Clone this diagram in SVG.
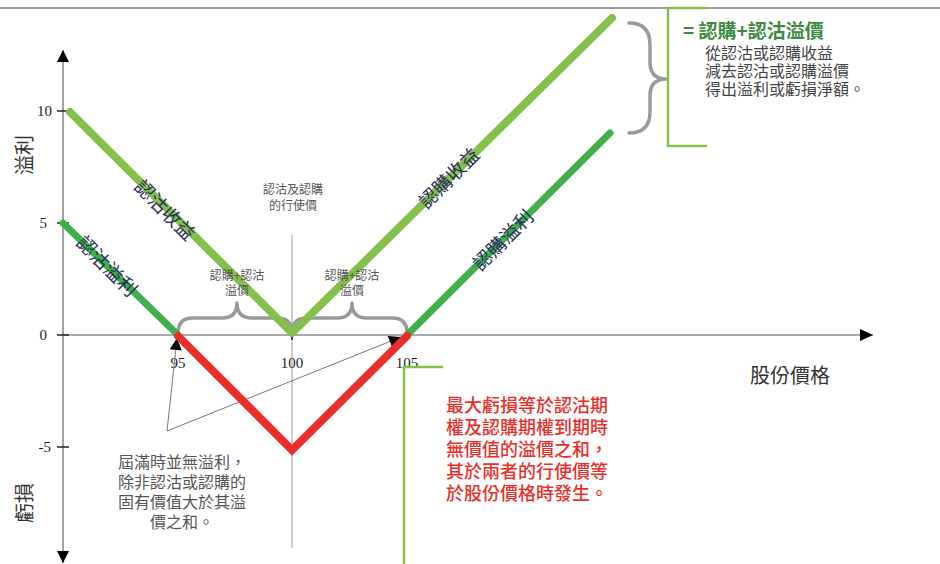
<svg xmlns="http://www.w3.org/2000/svg" width="940" height="564" viewBox="0 0 940 564">
<style>
.cjk{font-family:"Noto Sans CJK TC","Noto Sans CJK SC",sans-serif}
.num{font-family:"Liberation Serif",serif;font-size:15px;fill:#222}
.lbl{font-family:"Noto Sans CJK TC",sans-serif;font-size:19px;fill:#2b2d5c}
.note{font-family:"Noto Sans CJK TC",sans-serif;fill:#555}
.brace{fill:none;stroke:#9a9a9a;stroke-width:3.5;stroke-linejoin:round;stroke-linecap:round}
.lg{stroke:#84c14c;stroke-width:8;stroke-linecap:round;fill:none}
.mg{stroke:#3fb04c;stroke-width:7;stroke-linecap:round;fill:none}
.rd{stroke:#ea2f2a;stroke-width:8;stroke-linecap:round;stroke-linejoin:miter;fill:none}
.tick{stroke:#222;stroke-width:1.5}
.gb{fill:none;stroke:#84c14c;stroke-width:2.5}
</style>
<defs>
<marker id="tri" viewBox="0 0 10 10" refX="10" refY="5" markerWidth="12" markerHeight="12" markerUnits="userSpaceOnUse" orient="auto">
<path d="M0,0 L10,5 L0,10 Z" fill="#000"/>
</marker>
<marker id="ann" viewBox="0 0 10 10" refX="10" refY="5" markerWidth="13" markerHeight="12" markerUnits="userSpaceOnUse" orient="auto">
<path d="M0,0 L10,5 L0,10 Z" fill="#000"/>
</marker>
</defs>
<rect width="940" height="564" fill="#fff"/>
<line x1="0" y1="8" x2="940" y2="8" stroke="#9a9a9a" stroke-width="2"/>

<g id="axes">
<line x1="63" y1="335" x2="63" y2="50" stroke="#666" stroke-width="1.2" marker-end="url(#tri)"/>
<line x1="63" y1="335" x2="63" y2="563" stroke="#666" stroke-width="1.2" marker-end="url(#tri)"/>
<line x1="63" y1="335" x2="873" y2="335" stroke="#aaa" stroke-width="2"/>
<path d="M860,329 L873,335 L860,341 Z" fill="#000"/>
<line x1="292" y1="235" x2="292" y2="548" stroke="#aaa" stroke-width="1.2"/>
<line class="tick" x1="57" y1="111" x2="69" y2="111"/>
<line class="tick" x1="57" y1="223" x2="69" y2="223"/>
<line class="tick" x1="57" y1="335" x2="69" y2="335"/>
<line class="tick" x1="57" y1="447" x2="69" y2="447"/>
<line class="tick" x1="178" y1="329" x2="178" y2="340"/>
<line class="tick" x1="292" y1="329" x2="292" y2="340"/>
<line class="tick" x1="407" y1="329" x2="407" y2="340"/>
<text class="num" x="52" y="116" text-anchor="end">10</text>
<text class="num" x="47" y="228" text-anchor="end">5</text>
<text class="num" x="47" y="340" text-anchor="end">0</text>
<text class="num" x="51" y="452" text-anchor="end">-5</text>
<text class="num" x="178" y="368" text-anchor="middle">95</text>
<text class="num" x="292" y="368" text-anchor="middle">100</text>
<text class="num" x="407" y="368" text-anchor="middle">105</text>
<text class="cjk" x="0" y="0" font-size="20" fill="#333" text-anchor="middle" transform="translate(32,155) rotate(-90)">溢利</text>
<text class="cjk" x="0" y="0" font-size="20" fill="#333" text-anchor="middle" transform="translate(32,503) rotate(-90)">虧損</text>
<text class="cjk" x="750" y="383" font-size="20" fill="#333">股份價格</text>
</g>

<g id="connectors">
<path class="brace" d="M178,333 Q178,318 193,318 L222,318 Q237,318 237,303 Q237,318 252,318 L277,318 Q292,318 292,333"/>
<path class="brace" d="M292,333 Q292,318 307,318 L337,318 Q352,318 352,303 Q352,318 367,318 L392,318 Q407,318 407,333"/>
<path class="brace" d="M629,23 Q650,23 650,45 L650,62 Q650,79 666,79 Q650,79 650,96 L650,112 Q650,133 629,133"/>
<line x1="167" y1="431" x2="177" y2="338" stroke="#777" stroke-width="1" marker-end="url(#ann)"/>
<line x1="167" y1="431" x2="401" y2="337" stroke="#777" stroke-width="1" marker-end="url(#ann)"/>
<path class="gb" d="M707,8 L668,8 L668,146 L707,146"/>
<path class="gb" d="M443,367 L404,367 L404,564"/>
</g>

<g id="put-income">
<line class="lg" x1="70" y1="112" x2="292" y2="333"/>
<text class="lbl" text-anchor="middle" transform="translate(165,210) rotate(45)" y="7">認沽收益</text>
</g>
<g id="put-profit">
<line class="mg" x1="63" y1="223" x2="178" y2="335"/>
<text class="lbl" text-anchor="middle" transform="translate(107,266) rotate(45)" y="7">認沽溢利</text>
</g>
<g id="call-income">
<line class="lg" x1="292" y1="333" x2="612" y2="18"/>
<text class="lbl" text-anchor="middle" transform="translate(449,178) rotate(-45)" y="7">認購收益</text>
</g>
<g id="call-profit">
<line class="mg" x1="407" y1="335" x2="610" y2="133"/>
<text class="lbl" text-anchor="middle" transform="translate(503,240) rotate(-45)" y="7">認購溢利</text>
</g>
<g id="loss">
<path class="rd" d="M178,336 L292,450 L407,336"/>
</g>

<g id="strike-label">
<text class="note" font-size="12" text-anchor="middle"><tspan x="293" y="194">認沽及認購</tspan><tspan x="293" y="210">的行使價</tspan></text>
</g>
<g id="premium-left">
<text class="note" font-size="12" fill="#666" text-anchor="middle"><tspan x="237" y="280">認購+認沽</tspan><tspan x="237" y="295">溢價</tspan></text>
</g>
<g id="premium-right">
<text class="note" font-size="12" fill="#666" text-anchor="middle"><tspan x="352" y="280">認購+認沽</tspan><tspan x="352" y="295">溢價</tspan></text>
</g>
<g id="expiry-note">
<text class="note" font-size="16" text-anchor="middle"><tspan x="182" y="468">屆滿時並無溢利，</tspan><tspan x="182" y="488">除非認沽或認購的</tspan><tspan x="182" y="508">固有價值大於其溢</tspan><tspan x="182" y="528">價之和。</tspan></text>
</g>
<g id="max-loss-note">
<text class="cjk" font-size="18" fill="#ea2f2a" font-weight="500"><tspan x="446" y="412">最大虧損等於認沽期</tspan><tspan x="446" y="434">權及認購期權到期時</tspan><tspan x="446" y="456">無價值的溢價之和，</tspan><tspan x="446" y="478">其於兩者的行使價等</tspan><tspan x="446" y="500">於股份價格時發生。</tspan></text>
</g>
<g id="summary-note">
<text class="cjk" x="683" y="38" font-size="19" font-weight="bold" fill="#3b8a3f">= 認購+認沽溢價</text>
<text class="cjk" font-size="16" fill="#444"><tspan x="705" y="59">從認沽或認購收益</tspan><tspan x="705" y="77">減去認沽或認購溢價</tspan><tspan x="705" y="95">得出溢利或虧損淨額。</tspan></text>
</g>
</svg>
